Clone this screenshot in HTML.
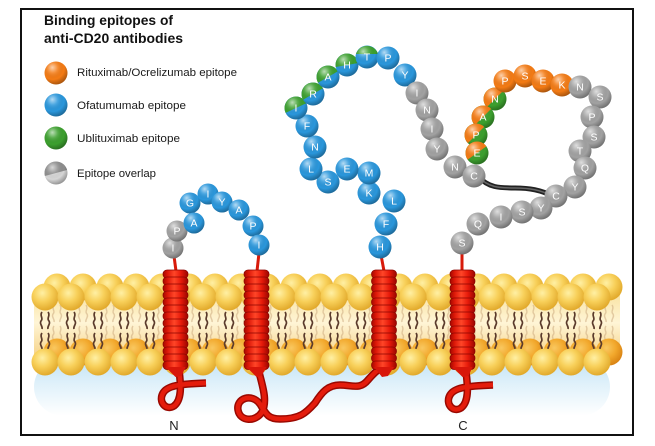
<!DOCTYPE html>
<html><head><meta charset="utf-8">
<style>
html,body{margin:0;padding:0;background:#fff;width:655px;height:446px;overflow:hidden}
svg{display:block}
.t{fill:#fff;font-family:"Liberation Sans",sans-serif;font-size:10.5px;text-anchor:middle}
.B{fill:#2a97dc}.G{fill:#a2a2a2}.O{fill:#f47b14}.N{fill:#3ca02e}
.lg{font-family:"Liberation Sans",sans-serif;font-size:11px;fill:#1a1a1a}
</style></head><body>
<svg width="655" height="446" viewBox="0 0 655 446" xmlns="http://www.w3.org/2000/svg">
<defs>
<radialGradient id="sh" cx="0.38" cy="0.3" r="0.75" fx="0.34" fy="0.26">
<stop offset="0" stop-color="#fff" stop-opacity="0.65"/>
<stop offset="0.3" stop-color="#fff" stop-opacity="0.15"/>
<stop offset="0.65" stop-color="#000" stop-opacity="0"/>
<stop offset="1" stop-color="#000" stop-opacity="0.35"/>
</radialGradient>
<radialGradient id="hy" cx="0.4" cy="0.35" r="0.65">
<stop offset="0" stop-color="#fff0a4"/><stop offset="0.5" stop-color="#f8d05a"/><stop offset="1" stop-color="#e2aa2c"/>
</radialGradient>
<radialGradient id="ho" cx="0.4" cy="0.35" r="0.65">
<stop offset="0" stop-color="#f9c860"/><stop offset="0.55" stop-color="#f2a82c"/><stop offset="1" stop-color="#da8414"/>
</radialGradient>
<linearGradient id="band" x1="0" y1="0" x2="0" y2="1">
<stop offset="0" stop-color="#f9e2a0"/><stop offset="0.45" stop-color="#fff5d6"/><stop offset="1" stop-color="#f5cf80"/>
</linearGradient>
<linearGradient id="bl" x1="0" y1="0" x2="0" y2="1">
<stop offset="0" stop-color="#bfe2f5"/><stop offset="0.45" stop-color="#e0f1fa"/><stop offset="1" stop-color="#ffffff"/>
</linearGradient>
<linearGradient id="rg" x1="0" y1="0" x2="1" y2="0">
<stop offset="0" stop-color="#a20800"/><stop offset="0.18" stop-color="#dc1808"/><stop offset="0.45" stop-color="#ff4628"/><stop offset="0.72" stop-color="#e61a0a"/><stop offset="1" stop-color="#980600"/>
</linearGradient>
<circle id="hd" r="13.5" fill="url(#hy)"/>
<circle id="hdo" r="13.5" fill="url(#ho)"/>
<circle id="s11" r="11.5" fill="url(#sh)"/>
<circle id="s10" r="10.5" fill="url(#sh)"/>
<g id="tp" fill="none" stroke="#5b3b2c" stroke-width="1.7">
<path d="M-3,312 c-3,4 2,6 -1,9 c-2,3 2,5 1,8 M-3,333 c-3,4 2,6 -1,9 c-2,3 2,5 1,8"/>
<path d="M3,312 c3,4 -2,6 1,9 c2,3 -2,5 -1,8 M3,333 c3,4 -2,6 1,9 c2,3 -2,5 -1,8"/>
</g>
<g id="tb" fill="none" stroke="#c9a57a" stroke-width="1.5" opacity="0.5">
<path d="M-3,305 c-3,4 2,6 -1,9 c-2,3 2,5 1,8 M-3,326 c-3,4 2,6 -1,9 c-2,3 2,5 1,8"/>
<path d="M3,305 c3,4 -2,6 1,9 c2,3 -2,5 -1,8 M3,326 c3,4 -2,6 1,9 c2,3 -2,5 -1,8"/>
</g>
<g id="hx">
<rect x="-12.5" y="270" width="25" height="8.5" rx="4" fill="url(#rg)" stroke="#8a0500" stroke-width="0.7"/>
<rect x="-12.5" y="277" width="25" height="8.5" rx="4" fill="url(#rg)" stroke="#8a0500" stroke-width="0.7"/>
<rect x="-12.5" y="284" width="25" height="8.5" rx="4" fill="url(#rg)" stroke="#8a0500" stroke-width="0.7"/>
<rect x="-12.5" y="291" width="25" height="8.5" rx="4" fill="url(#rg)" stroke="#8a0500" stroke-width="0.7"/>
<rect x="-12.5" y="298" width="25" height="8.5" rx="4" fill="url(#rg)" stroke="#8a0500" stroke-width="0.7"/>
<rect x="-12.5" y="305" width="25" height="8.5" rx="4" fill="url(#rg)" stroke="#8a0500" stroke-width="0.7"/>
<rect x="-12.5" y="312" width="25" height="8.5" rx="4" fill="url(#rg)" stroke="#8a0500" stroke-width="0.7"/>
<rect x="-12.5" y="319" width="25" height="8.5" rx="4" fill="url(#rg)" stroke="#8a0500" stroke-width="0.7"/>
<rect x="-12.5" y="326" width="25" height="8.5" rx="4" fill="url(#rg)" stroke="#8a0500" stroke-width="0.7"/>
<rect x="-12.5" y="333" width="25" height="8.5" rx="4" fill="url(#rg)" stroke="#8a0500" stroke-width="0.7"/>
<rect x="-12.5" y="340" width="25" height="8.5" rx="4" fill="url(#rg)" stroke="#8a0500" stroke-width="0.7"/>
<rect x="-12.5" y="347" width="25" height="8.5" rx="4" fill="url(#rg)" stroke="#8a0500" stroke-width="0.7"/>
<rect x="-12.5" y="354" width="25" height="8.5" rx="4" fill="url(#rg)" stroke="#8a0500" stroke-width="0.7"/>
<rect x="-12.5" y="361" width="25" height="8.5" rx="4" fill="url(#rg)" stroke="#8a0500" stroke-width="0.7"/>
</g>
</defs>

<!-- frame -->
<rect x="21" y="9" width="612" height="426" fill="#fff" stroke="#111" stroke-width="2"/>

<!-- title & legend -->
<text x="44" y="25" font-family="Liberation Sans, sans-serif" font-weight="bold" font-size="13.5" fill="#111" textLength="129" lengthAdjust="spacingAndGlyphs">Binding epitopes of</text>
<text x="44" y="43" font-family="Liberation Sans, sans-serif" font-weight="bold" font-size="13.5" fill="#111" textLength="139" lengthAdjust="spacingAndGlyphs">anti-CD20 antibodies</text>

<g transform="translate(56,73)"><circle r="11.5" class="O"/><circle r="11.5" fill="url(#sh)"/></g>
<g transform="translate(56,105)"><circle r="11.5" class="B"/><circle r="11.5" fill="url(#sh)"/></g>
<g transform="translate(56,138)"><circle r="11.5" class="N"/><circle r="11.5" fill="url(#sh)"/></g>
<g transform="translate(56,173)"><circle r="11.5" fill="#d6d6d6"/><path d="M-11.5,0A11.5,11.5 0 0 1 11.5,0Z" fill="#8e8e8e" transform="rotate(-15)"/><circle r="11.5" fill="url(#sh)"/></g>
<text class="lg" x="77" y="76" textLength="160" lengthAdjust="spacingAndGlyphs">Rituximab/Ocrelizumab epitope</text>
<text class="lg" x="77" y="109" textLength="109" lengthAdjust="spacingAndGlyphs">Ofatumumab epitope</text>
<text class="lg" x="77" y="142" textLength="103" lengthAdjust="spacingAndGlyphs">Ublituximab epitope</text>
<text class="lg" x="77" y="177" textLength="79" lengthAdjust="spacingAndGlyphs">Epitope overlap</text>

<!-- shadow -->
<rect x="34" y="358" width="576" height="58" rx="30" fill="url(#bl)"/>

<!-- membrane band -->
<rect x="34" y="292" width="586" height="68" fill="url(#band)"/>

<!-- back tails -->
<g>
<use href="#tb" x="57"/><use href="#tb" x="83"/><use href="#tb" x="110"/><use href="#tb" x="136"/><use href="#tb" x="162"/><use href="#tb" x="189"/><use href="#tb" x="215"/><use href="#tb" x="241"/><use href="#tb" x="267"/><use href="#tb" x="294"/><use href="#tb" x="320"/><use href="#tb" x="346"/><use href="#tb" x="373"/><use href="#tb" x="399"/><use href="#tb" x="425"/><use href="#tb" x="452"/><use href="#tb" x="478"/><use href="#tb" x="504"/><use href="#tb" x="530"/><use href="#tb" x="557"/><use href="#tb" x="583"/><use href="#tb" x="609"/>
</g>
<!-- upper back heads -->
<g>
<use href="#hd" x="57" y="287"/><use href="#hd" x="83" y="287"/><use href="#hd" x="110" y="287"/><use href="#hd" x="136" y="287"/><use href="#hd" x="162" y="287"/><use href="#hd" x="189" y="287"/><use href="#hd" x="215" y="287"/><use href="#hd" x="241" y="287"/><use href="#hd" x="267" y="287"/><use href="#hd" x="294" y="287"/><use href="#hd" x="320" y="287"/><use href="#hd" x="346" y="287"/><use href="#hd" x="373" y="287"/><use href="#hd" x="399" y="287"/><use href="#hd" x="425" y="287"/><use href="#hd" x="452" y="287"/><use href="#hd" x="478" y="287"/><use href="#hd" x="504" y="287"/><use href="#hd" x="530" y="287"/><use href="#hd" x="557" y="287"/><use href="#hd" x="583" y="287"/><use href="#hd" x="609" y="287"/>
</g>
<!-- lower back heads -->
<g>
<use href="#hdo" x="57" y="352"/><use href="#hdo" x="83" y="352"/><use href="#hdo" x="110" y="352"/><use href="#hdo" x="136" y="352"/><use href="#hdo" x="162" y="352"/><use href="#hdo" x="189" y="352"/><use href="#hdo" x="215" y="352"/><use href="#hdo" x="241" y="352"/><use href="#hdo" x="267" y="352"/><use href="#hdo" x="294" y="352"/><use href="#hdo" x="320" y="352"/><use href="#hdo" x="346" y="352"/><use href="#hdo" x="373" y="352"/><use href="#hdo" x="399" y="352"/><use href="#hdo" x="425" y="352"/><use href="#hdo" x="452" y="352"/><use href="#hdo" x="478" y="352"/><use href="#hdo" x="504" y="352"/><use href="#hdo" x="530" y="352"/><use href="#hdo" x="557" y="352"/><use href="#hdo" x="583" y="352"/><use href="#hdo" x="609" y="352"/>
</g>
<!-- front tails -->
<g>
<use href="#tp" x="45"/><use href="#tp" x="71"/><use href="#tp" x="98"/><use href="#tp" x="124"/><use href="#tp" x="150"/><use href="#tp" x="177"/><use href="#tp" x="203"/><use href="#tp" x="229"/><use href="#tp" x="255"/><use href="#tp" x="282"/><use href="#tp" x="308"/><use href="#tp" x="334"/><use href="#tp" x="361"/><use href="#tp" x="387"/><use href="#tp" x="413"/><use href="#tp" x="440"/><use href="#tp" x="466"/><use href="#tp" x="492"/><use href="#tp" x="518"/><use href="#tp" x="545"/><use href="#tp" x="571"/><use href="#tp" x="597"/>
</g>
<!-- upper front heads -->
<g>
<use href="#hd" x="45" y="297"/><use href="#hd" x="71" y="297"/><use href="#hd" x="98" y="297"/><use href="#hd" x="124" y="297"/><use href="#hd" x="150" y="297"/><use href="#hd" x="177" y="297"/><use href="#hd" x="203" y="297"/><use href="#hd" x="229" y="297"/><use href="#hd" x="255" y="297"/><use href="#hd" x="282" y="297"/><use href="#hd" x="308" y="297"/><use href="#hd" x="334" y="297"/><use href="#hd" x="361" y="297"/><use href="#hd" x="387" y="297"/><use href="#hd" x="413" y="297"/><use href="#hd" x="440" y="297"/><use href="#hd" x="466" y="297"/><use href="#hd" x="492" y="297"/><use href="#hd" x="518" y="297"/><use href="#hd" x="545" y="297"/><use href="#hd" x="571" y="297"/><use href="#hd" x="597" y="297"/>
</g>
<!-- lower front heads -->
<g>
<use href="#hd" x="45" y="362"/><use href="#hd" x="71" y="362"/><use href="#hd" x="98" y="362"/><use href="#hd" x="124" y="362"/><use href="#hd" x="150" y="362"/><use href="#hd" x="177" y="362"/><use href="#hd" x="203" y="362"/><use href="#hd" x="229" y="362"/><use href="#hd" x="255" y="362"/><use href="#hd" x="282" y="362"/><use href="#hd" x="308" y="362"/><use href="#hd" x="334" y="362"/><use href="#hd" x="361" y="362"/><use href="#hd" x="387" y="362"/><use href="#hd" x="413" y="362"/><use href="#hd" x="440" y="362"/><use href="#hd" x="466" y="362"/><use href="#hd" x="492" y="362"/><use href="#hd" x="518" y="362"/><use href="#hd" x="545" y="362"/><use href="#hd" x="571" y="362"/><use href="#hd" x="597" y="362"/>
</g>

<!-- intracellular tails -->
<g fill="none" stroke-linecap="butt" stroke-linejoin="round">
<path d="M179,370 C181,385 182,400 174,406 C166,411 158,402 163,393 C167,386 178,384 206,383" stroke="#9a0800" stroke-width="7.5"/>
<path d="M179,370 C181,385 182,400 174,406 C166,411 158,402 163,393 C167,386 178,384 206,383" stroke="#e41c0c" stroke-width="4.5"/>
<g transform="translate(287,2)">
<path d="M179,370 C181,385 182,400 174,406 C166,411 158,402 163,393 C167,386 178,384 206,383" stroke="#9a0800" stroke-width="7.5"/>
<path d="M179,370 C181,385 182,400 174,406 C166,411 158,402 163,393 C167,386 178,384 206,383" stroke="#e41c0c" stroke-width="4.5"/>
</g>
<path d="M258,368 C262,385 268,400 262,412 C256,422 240,422 238,410 C236,398 252,393 260,404 C266,414 268,419 280,419 C300,419 306,413 315,403 C322,392 328,385 340,385 C352,385 360,390 368,380 C374,373 380,368 384,366" stroke="#9a0800" stroke-width="7.5"/>
<path d="M258,368 C262,385 268,400 262,412 C256,422 240,422 238,410 C236,398 252,393 260,404 C266,414 268,419 280,419 C300,419 306,413 315,403 C322,392 328,385 340,385 C352,385 360,390 368,380 C374,373 380,368 384,366" stroke="#e41c0c" stroke-width="4.5"/>
</g>

<!-- stalks -->
<g stroke="#d81a0a" stroke-width="3" fill="none">
<path d="M176,271 L174,256"/>
<path d="M257,271 L259,253"/>
<path d="M384,271 L381,255"/>
<path d="M462,271 L462,251"/>
</g>

<!-- helices -->
<g transform="translate(175.5,0)"><use href="#hx"/><path d="M-10,367 L10,367 L6,376 L0,377 Z" fill="#d8160a"/></g>
<g transform="translate(256.5,0)"><use href="#hx"/><path d="M-10,367 L10,367 L5,376 L0,377 Z" fill="#d8160a"/></g>
<g transform="translate(384,0)"><use href="#hx"/><path d="M-10,367 L10,367 L4,376 L-2,377 Z" fill="#d8160a"/></g>
<g transform="translate(462.5,0)"><use href="#hx"/><path d="M-10,367 L10,367 L6,376 L0,377 Z" fill="#d8160a"/></g>

<text x="174" y="430" font-family="Liberation Sans, sans-serif" font-size="13" fill="#222" text-anchor="middle">N</text>
<text x="463" y="430" font-family="Liberation Sans, sans-serif" font-size="13" fill="#222" text-anchor="middle">C</text>

<!-- disulfide -->
<path d="M478,176 C488,188 500,188 515,188 C530,188 540,190 553,196" fill="none" stroke="#222" stroke-width="5" stroke-linecap="round"/>
<path d="M478,176 C488,188 500,188 515,188 C530,188 540,190 553,196" fill="none" stroke="#666" stroke-width="1.5" stroke-linecap="round"/>

<!-- loop 1 beads -->
<g transform="translate(173,248)"><circle r="10.5" class="G"/><use href="#s10"/><text class="t" y="3.7">I</text></g>
<g transform="translate(177,231)"><circle r="10.5" class="G"/><use href="#s10"/><text class="t" y="3.7">P</text></g>
<g transform="translate(190,203)"><circle r="10.5" class="B"/><use href="#s10"/><text class="t" y="3.7">G</text></g>
<g transform="translate(194,223)"><circle r="10.5" class="B"/><use href="#s10"/><text class="t" y="3.7">A</text></g>
<g transform="translate(208,194)"><circle r="10.5" class="B"/><use href="#s10"/><text class="t" y="3.7">I</text></g>
<g transform="translate(222,202)"><circle r="10.5" class="B"/><use href="#s10"/><text class="t" y="3.7">Y</text></g>
<g transform="translate(239,210)"><circle r="10.5" class="B"/><use href="#s10"/><text class="t" y="3.7">A</text></g>
<g transform="translate(253,226)"><circle r="10.5" class="B"/><use href="#s10"/><text class="t" y="3.7">P</text></g>
<g transform="translate(259,245)"><circle r="10.5" class="B"/><use href="#s10"/><text class="t" y="3.7">I</text></g>

<!-- big loop beads -->
<g transform="translate(380,247)"><circle r="11.5" class="B"/><use href="#s11"/><text class="t" y="3.7">H</text></g>
<g transform="translate(386,224)"><circle r="11.5" class="B"/><use href="#s11"/><text class="t" y="3.7">F</text></g>
<g transform="translate(394,201)"><circle r="11.5" class="B"/><use href="#s11"/><text class="t" y="3.7">L</text></g>
<g transform="translate(369,193)"><circle r="11.5" class="B"/><use href="#s11"/><text class="t" y="3.7">K</text></g>
<g transform="translate(369,173)"><circle r="11.5" class="B"/><use href="#s11"/><text class="t" y="3.7">M</text></g>
<g transform="translate(347,169)"><circle r="11.5" class="B"/><use href="#s11"/><text class="t" y="3.7">E</text></g>
<g transform="translate(328,182)"><circle r="11.5" class="B"/><use href="#s11"/><text class="t" y="3.7">S</text></g>
<g transform="translate(311,169)"><circle r="11.5" class="B"/><use href="#s11"/><text class="t" y="3.7">L</text></g>
<g transform="translate(315,147)"><circle r="11.5" class="B"/><use href="#s11"/><text class="t" y="3.7">N</text></g>
<g transform="translate(307,126)"><circle r="11.5" class="B"/><use href="#s11"/><text class="t" y="3.7">F</text></g>
<g transform="translate(296,108)"><circle r="11.5" class="B"/><path d="M-11.5,0A11.5,11.5 0 0 1 11.5,0Z" class="N" transform="rotate(-25)"/><use href="#s11"/><text class="t" y="3.7">I</text></g>
<g transform="translate(313,94)"><circle r="11.5" class="B"/><path d="M-11.5,0A11.5,11.5 0 0 1 11.5,0Z" class="N" transform="rotate(-30)"/><use href="#s11"/><text class="t" y="3.7">R</text></g>
<g transform="translate(328,77)"><circle r="11.5" class="B"/><path d="M-11.5,0A11.5,11.5 0 0 1 11.5,0Z" class="N" transform="rotate(-30)"/><use href="#s11"/><text class="t" y="3.7">A</text></g>
<g transform="translate(347,65)"><circle r="11.5" class="B"/><path d="M-11.5,0A11.5,11.5 0 0 1 11.5,0Z" class="N" transform="rotate(-10)"/><use href="#s11"/><text class="t" y="3.7">H</text></g>
<g transform="translate(367,57)"><circle r="11.5" class="B"/><path d="M-11,-3A11.5,11.5 0 0 1 11,-3Z" class="N"/><use href="#s11"/><text class="t" y="3.7">T</text></g>
<g transform="translate(388,58)"><circle r="11.5" class="B"/><use href="#s11"/><text class="t" y="3.7">P</text></g>
<g transform="translate(405,75)"><circle r="11.5" class="B"/><use href="#s11"/><text class="t" y="3.7">Y</text></g>
<g transform="translate(417,93)"><circle r="11.5" class="G"/><use href="#s11"/><text class="t" y="3.7">I</text></g>
<g transform="translate(427,110)"><circle r="11.5" class="G"/><use href="#s11"/><text class="t" y="3.7">N</text></g>
<g transform="translate(432,129)"><circle r="11.5" class="G"/><use href="#s11"/><text class="t" y="3.7">I</text></g>
<g transform="translate(437,149)"><circle r="11.5" class="G"/><use href="#s11"/><text class="t" y="3.7">Y</text></g>
<g transform="translate(455,167)"><circle r="11.5" class="G"/><use href="#s11"/><text class="t" y="3.7">N</text></g>
<g transform="translate(495,99)"><circle r="11.5" class="N"/><path d="M-11.5,0A11.5,11.5 0 0 1 11.5,0Z" class="O" transform="rotate(-45)"/><use href="#s11"/><text class="t" y="3.7">N</text></g>
<g transform="translate(483,117)"><circle r="11.5" class="N"/><path d="M-11.5,0A11.5,11.5 0 0 1 11.5,0Z" class="O" transform="rotate(-45)"/><use href="#s11"/><text class="t" y="3.7">A</text></g>
<g transform="translate(476,135)"><circle r="11.5" class="N"/><path d="M-11.5,0A11.5,11.5 0 0 1 11.5,0Z" class="O" transform="rotate(-45)"/><use href="#s11"/><text class="t" y="3.7">P</text></g>
<g transform="translate(477,153)"><circle r="11.5" class="N"/><path d="M-11.5,0A11.5,11.5 0 0 1 11.5,0Z" class="O" transform="rotate(-35)"/><use href="#s11"/><text class="t" y="3.7">E</text></g>
<g transform="translate(474,176)"><circle r="11.5" class="G"/><use href="#s11"/><text class="t" y="3.7">C</text></g>
<g transform="translate(505,81)"><circle r="11.5" class="O"/><use href="#s11"/><text class="t" y="3.7">P</text></g>
<g transform="translate(525,76)"><circle r="11.5" class="O"/><use href="#s11"/><text class="t" y="3.7">S</text></g>
<g transform="translate(543,81)"><circle r="11.5" class="O"/><use href="#s11"/><text class="t" y="3.7">E</text></g>
<g transform="translate(562,85)"><circle r="11.5" class="O"/><use href="#s11"/><text class="t" y="3.7">K</text></g>
<g transform="translate(580,87)"><circle r="11.5" class="G"/><use href="#s11"/><text class="t" y="3.7">N</text></g>
<g transform="translate(600,97)"><circle r="11.5" class="G"/><use href="#s11"/><text class="t" y="3.7">S</text></g>
<g transform="translate(592,117)"><circle r="11.5" class="G"/><use href="#s11"/><text class="t" y="3.7">P</text></g>
<g transform="translate(594,137)"><circle r="11.5" class="G"/><use href="#s11"/><text class="t" y="3.7">S</text></g>
<g transform="translate(580,151)"><circle r="11.5" class="G"/><use href="#s11"/><text class="t" y="3.7">T</text></g>
<g transform="translate(585,168)"><circle r="11.5" class="G"/><use href="#s11"/><text class="t" y="3.7">Q</text></g>
<g transform="translate(575,187)"><circle r="11.5" class="G"/><use href="#s11"/><text class="t" y="3.7">Y</text></g>
<g transform="translate(556,196)"><circle r="11.5" class="G"/><use href="#s11"/><text class="t" y="3.7">C</text></g>
<g transform="translate(541,208)"><circle r="11.5" class="G"/><use href="#s11"/><text class="t" y="3.7">Y</text></g>
<g transform="translate(522,212)"><circle r="11.5" class="G"/><use href="#s11"/><text class="t" y="3.7">S</text></g>
<g transform="translate(501,217)"><circle r="11.5" class="G"/><use href="#s11"/><text class="t" y="3.7">I</text></g>
<g transform="translate(478,224)"><circle r="11.5" class="G"/><use href="#s11"/><text class="t" y="3.7">Q</text></g>
<g transform="translate(462,243)"><circle r="11.5" class="G"/><use href="#s11"/><text class="t" y="3.7">S</text></g>
</svg>
</body></html>
